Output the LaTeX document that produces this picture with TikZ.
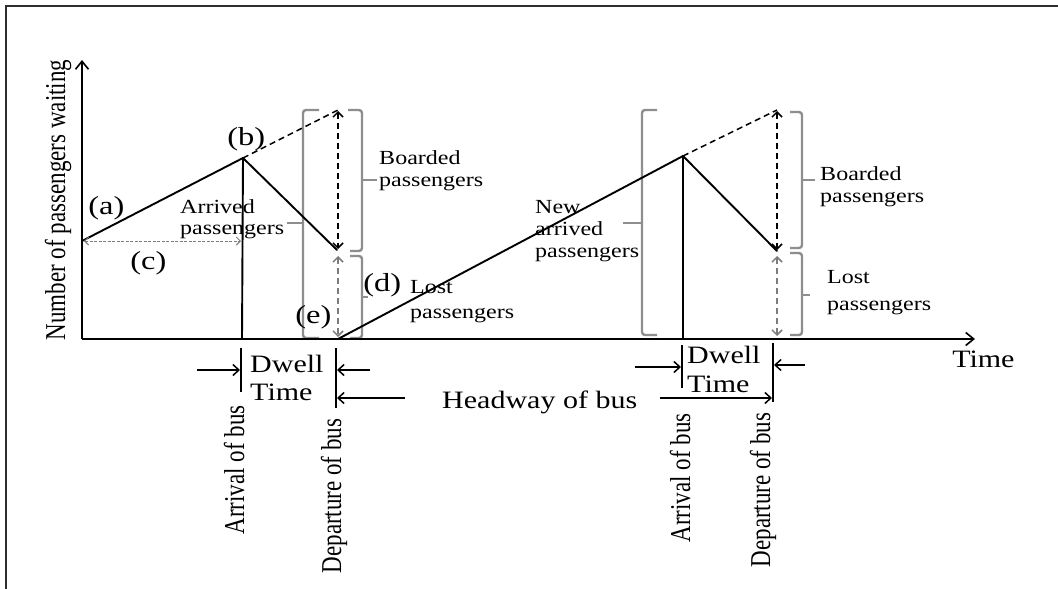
\documentclass[tikz,border=0pt]{standalone}
\usepackage{fontspec}
\setmainfont{Liberation Serif}
\usetikzlibrary{arrows.meta}
\definecolor{brgray}{HTML}{8E8E8E}
\definecolor{dgray}{HTML}{7C7C7C}
\definecolor{framec}{HTML}{2E2E2E}
\newcommand\setfs[2]{\fontsize{#1}{#2}\selectfont}
\begin{document}
\begin{tikzpicture}[x=1pt,y=-1pt,
  axis/.style={line width=1.9pt, -{Straight Barb[length=8pt,width=13pt,line width=1.6pt]}},
  curve/.style={line width=1.9pt, line cap=round, line join=round},
  dsh/.style={line width=1.5pt, dash pattern=on 6pt off 4pt},
  dar/.style={line width=1.5pt, dash pattern=on 6pt off 4pt,
    {Straight Barb[length=5pt,width=10pt]}-{Straight Barb[length=5pt,width=10pt]}},
  gar/.style={dar, draw=dgray},
  car/.style={draw=dgray, line width=1pt, dash pattern=on 3pt off 1.5pt,
    {Straight Barb[length=4pt,width=8pt]}-{Straight Barb[length=4pt,width=8pt]}},
  brc/.style={draw=brgray, line width=2.4pt, rounded corners=3pt},
  tick/.style={line width=1.6pt},
  dim/.style={line width=1.5pt, -{Straight Barb[length=6pt,width=11pt]}},
  lbl/.style={font=\setfs{20}{22}, xscale=1.2, align=left, inner sep=0pt, anchor=base west},
  big/.style={font=\setfs{25}{29}, xscale=1.2, align=left, inner sep=0pt, anchor=base west},
  tag/.style={font=\setfs{26}{28}, xscale=1.25, inner sep=0pt, anchor=base west},
  vlbl/.style={font=\setfs{23}{25}, xscale=1.25, rotate=90, inner sep=0pt, anchor=base},
]
\useasboundingbox (0,0) rectangle (1058,589);
\fill[white] (0,0) rectangle (1058,589);
% frame
\draw[framec, line width=2.2pt] (1058,6) -- (6,6) -- (6,589);

% coordinates
\coordinate (O) at (82,339);
\coordinate (Ytop) at (82,60);
\coordinate (Xend) at (975,339);
\coordinate (A) at (82,241);
\coordinate (B) at (243,158);
\coordinate (Bv) at (242,339);
\coordinate (L1) at (337,250);
\coordinate (P1) at (338,110);
\coordinate (E) at (338,339);
\coordinate (C) at (683,156);
\coordinate (Cv) at (683,339);
\coordinate (L2) at (777,251);
\coordinate (P2) at (777,110);

% gray braces
\draw[brc] (319,110) -- (303,110) -- (303,338) -- (319,338);
\draw[brc] (303,223) -- (287,223);
\draw[brc] (348,110) -- (362,110) -- (362,251) -- (350,251);
\draw[brc] (362,180) -- (377,180);
\draw[brc] (350,256) -- (362,256) -- (362,338) -- (350,338);
\draw[brc] (362,297) -- (368,297);
\draw[brc] (657,110) -- (642,110) -- (642,335) -- (657,335);
\draw[brc] (642,223) -- (623,223);
\draw[brc] (790,112) -- (802,112) -- (802,248) -- (790,248);
\draw[brc] (802,180) -- (815,180);
\draw[brc] (790,253) -- (802,253) -- (802,335) -- (790,335);
\draw[brc] (802,295) -- (810,295);

% axes
\draw[axis] (O) -- (Ytop);
\draw[axis] (O) -- (Xend);

% curves
\draw[curve] (A) -- (B) -- (L1);
\draw[curve] (B) -- (Bv);
\draw[dsh] (B) -- (P1);
\draw[curve] (E) -- (C) -- (L2);
\draw[curve] (C) -- (Cv);
\draw[dsh] (C) -- (P2);

% vertical dashed arrows
\draw[dar] (338,111) -- (338,249);
\draw[gar] (338,256) -- (338,337);
\draw[dar] (777,111) -- (777,250);
\draw[gar] (777,256) -- (777,336);
\draw[car] (84,241) -- (241,241);

% labels in plot
\node[tag] (ta) at (88,214) {(a)};
\node[tag] (tb) at (227,145) {(b)};
\node[tag] (tc) at (130,269) {(c)};
\node[tag] (td) at (363,291) {(d)};
\node[tag] (te) at (295,323) {(e)};
\node[lbl, font=\setfs{20}{21}] (arr) at (180,234) {Arrived\\passengers};
\node[lbl] (brd1) at (379,186) {Boarded\\passengers};
\node[lbl, font=\setfs{20}{25}] (lost1) at (410,318) {Lost\\passengers};
\node[lbl] (new) at (535,257) {New\\arrived\\passengers};
\node[lbl] (brd2) at (820,202) {Boarded\\passengers};
\node[lbl, font=\setfs{20}{27}] (lost2) at (827,310) {Lost\\passengers};

\node[vlbl] (ylab) at (65,200) {Number of passengers waiting};
\node[big] (time) at (952,367) {Time};

% dwell / headway dimensions
\coordinate (a1t) at (241,348); \coordinate (a1b) at (241,392);
\coordinate (d1t) at (336,348); \coordinate (d1b) at (336,408);
\draw[tick] (a1t) -- (a1b);
\draw[tick] (d1t) -- (d1b);
\coordinate (s1) at (197,370); \coordinate (s1e) at (240,370);
\coordinate (s2) at (370,370); \coordinate (s2e) at (337,370);
\coordinate (s3) at (405,398); \coordinate (s3e) at (337,398);
\draw[dim] (s1) -- (s1e);
\draw[dim] (s2) -- (s2e);
\draw[dim] (s3) -- (s3e);
\node[big, font=\setfs{25}{28}] (dw1) at (250,400) {Dwell\\Time};

\coordinate (a2t) at (682,345); \coordinate (a2b) at (682,388);
\coordinate (d2t) at (773,343); \coordinate (d2b) at (773,402);
\draw[tick] (a2t) -- (a2b);
\draw[tick] (d2t) -- (d2b);
\coordinate (r1) at (635,367); \coordinate (r1e) at (681,367);
\coordinate (r2) at (805,365); \coordinate (r2e) at (774,365);
\coordinate (r3) at (660,398); \coordinate (r3e) at (772,398);
\draw[dim] (r1) -- (r1e);
\draw[dim] (r2) -- (r2e);
\draw[dim] (r3) -- (r3e);
\node[big] (dw2) at (687,392) {Dwell\\Time};
\node[big] (head) at (442,408) {Headway of bus};

\node[vlbl] (arrb1) at (244,470) {Arrival of bus};
\node[vlbl] (depb1) at (341,496) {Departure of bus};
\node[vlbl] (arrb2) at (690,478) {Arrival of bus};
\node[vlbl] (depb2) at (770,490) {Departure of bus};
\end{tikzpicture}
\end{document}
